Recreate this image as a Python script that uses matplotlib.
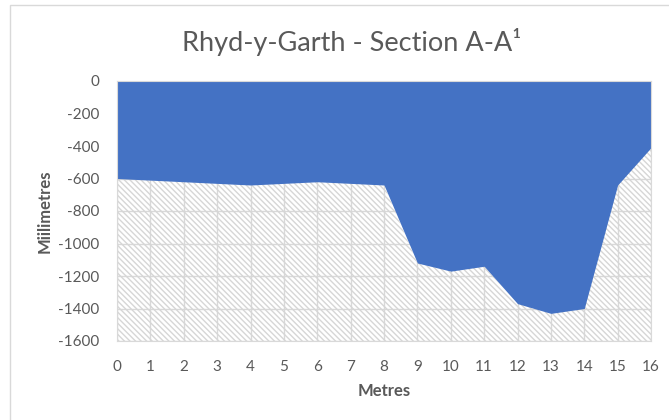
import matplotlib.pyplot as plt
from matplotlib.patches import Rectangle

# Dados
metres = [0, 1, 2, 3, 4, 5, 6, 7, 8, 9, 10, 11, 12, 13, 14, 15, 16]
depth_mm = [-600, -610, -620, -630, -640, -630, -620, -630, -640,
            -1120, -1170, -1140, -1370, -1430, -1400, -640, -410]
y_ticks = [0, -200, -400, -600, -800, -1000, -1200, -1400, -1600]

plt.rcParams['font.family'] = ['Lato', 'DejaVu Sans']
plt.rcParams['axes.unicode_minus'] = False
plt.rcParams['hatch.linewidth'] = 1.0
plt.rcParams['hatch.color'] = '#d6d6d6'

text_color = '#595959'
grid_color = '#d9d9d9'
blue = '#4472C4'

fig = plt.figure(figsize=(6.69, 4.2), dpi=100)
ax = fig.add_axes([117 / 669, 1 - 341 / 420, (651 - 117) / 669, (341 - 81) / 420])

# moldura do gráfico
fig.patches.append(Rectangle((10 / 669, -0.1), 1.2, 1 - 5 / 420 + 0.1,
                             transform=fig.transFigure, fill=False,
                             edgecolor='#d9d9d9', linewidth=1))

ax.fill_between(metres, depth_mm, -1600, facecolor='none', edgecolor='#d6d6d6',
                hatch='\\' * 6, linewidth=0, zorder=1)
ax.fill_between(metres, 0, depth_mm, color=blue, linewidth=0, zorder=2)

ax.set_xlim(0, 16)
ax.set_ylim(-1600, 0)
ax.set_xticks(metres)
ax.set_yticks(y_ticks)
ax.grid(True, color=grid_color, linewidth=1)
ax.set_axisbelow(True)
ax.tick_params(length=0, labelsize=11, labelcolor=text_color)
ax.tick_params(axis='x', pad=14)
ax.tick_params(axis='y', pad=13)
for s in ax.spines.values():
    s.set_color(grid_color)

ax.set_xlabel('Metres', fontsize=12, fontweight='bold', color=text_color, labelpad=6)
ax.set_ylabel('Miilimetres', fontsize=12, fontweight='bold', color=text_color, labelpad=4)
fig.text(352 / 669, 1 - 42 / 420, 'Rhyd-y-Garth - Section A-A\u00b9', ha='center', va='center',
         fontsize=19.5, color=text_color)

fig.savefig('out.png', dpi=100)
